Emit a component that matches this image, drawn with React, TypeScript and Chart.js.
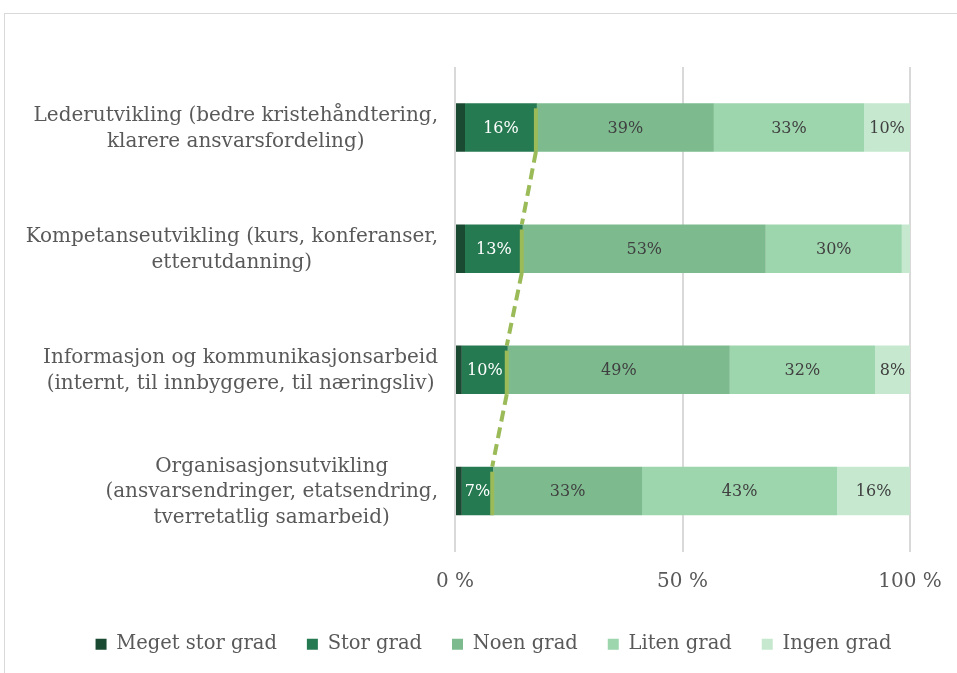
import React, { useEffect, useRef } from "react";
import { Chart, registerables } from "chart.js";

Chart.register(...registerables);

const FONT = '"DejaVu Serif", serif';

const categories: string[][] = [
  ["Lederutvikling (bedre kristehåndtering,", "klarere ansvarsfordeling)"],
  ["Kompetanseutvikling (kurs, konferanser,", "etterutdanning)"],
  ["Informasjon og kommunikasjonsarbeid", "(internt, til innbyggere, til næringsliv)"],
  ["Organisasjonsutvikling", "(ansvarsendringer, etatsendring,", "tverretatlig samarbeid)"],
];

const seriesNames = ["Meget stor grad", "Stor grad", "Noen grad", "Liten grad", "Ingen grad"];
const megetStor = [2.2, 2.2, 1.5, 1.5];
const stor = [15.8, 12.7, 10.1, 6.9];
const noen = [38.9, 53.4, 48.8, 32.7];
const liten = [33.0, 29.9, 31.9, 42.9];
const ingen = [10.1, 1.8, 7.7, 16.0];
const tickValues = [0, 50, 100];

const colors = ["#1b4a32", "#267a52", "#7dbb8f", "#9dd5ad", "#c5e8cf"];
const labelColors = ["#ffffff", "#ffffff", "#404040", "#404040", "#404040"];

const yLabelPlugin = {
  id: "yLabels",
  afterDraw(chart: any) {
    const ctx = chart.ctx;
    const yScale = chart.scales.y;
    ctx.save();
    ctx.font = `20px ${FONT}`;
    ctx.fillStyle = "#595959";
    ctx.textAlign = "center";
    ctx.textBaseline = "middle";
    const lh = 25.5;
    const right = 438;
    categories.forEach((lines, i) => {
      const cy = yScale.getPixelForValue(i);
      const widest = Math.max(...lines.map((l) => ctx.measureText(l).width));
      const cx = right - widest / 2;
      lines.forEach((l, j) => {
        const y = cy + (j - (lines.length - 1) / 2) * lh + 1;
        ctx.fillText(l, cx, y);
      });
    });
    ctx.restore();
  },
};

const seriesLinePlugin = {
  id: "seriesLine",
  afterDatasetsDraw(chart: any) {
    const ctx = chart.ctx;
    const els = chart.getDatasetMeta(1).data;
    ctx.save();
    ctx.strokeStyle = "#9bbb59";
    ctx.lineWidth = 4;
    els.forEach((el: any, i: number) => {
      const p = el.getProps(["x", "y", "height"], true);
      const x = p.x - 1;
      ctx.setLineDash([]);
      ctx.beginPath();
      ctx.moveTo(x, p.y - p.height / 2 + 5);
      ctx.lineTo(x, p.y + p.height / 2);
      ctx.stroke();
      if (i < els.length - 1) {
        const n = els[i + 1].getProps(["x", "y", "height"], true);
        ctx.setLineDash([11, 6]);
        ctx.beginPath();
        ctx.moveTo(x, p.y + p.height / 2);
        ctx.lineTo(n.x - 1, n.y - n.height / 2);
        ctx.stroke();
      }
    });
    ctx.restore();
  },
};

const dataLabelPlugin = {
  id: "dataLabels",
  afterDatasetsDraw(chart: any) {
    const ctx = chart.ctx;
    ctx.save();
    ctx.font = `16px ${FONT}`;
    ctx.textAlign = "center";
    ctx.textBaseline = "middle";
    chart.data.datasets.forEach((ds: any, di: number) => {
      const meta = chart.getDatasetMeta(di);
      meta.data.forEach((el: any, i: number) => {
        const v = ds.data[i];
        if (v < 5) return;
        const p = el.getProps(["x", "y", "base"], true);
        ctx.fillStyle = labelColors[di];
        ctx.fillText(Math.round(v) + "%", (p.x + p.base) / 2, p.y + 1);
      });
    });
    ctx.restore();
  },
};

export default function App() {
  const ref = useRef<HTMLCanvasElement>(null);
  useEffect(() => {
    const values = [megetStor, stor, noen, liten, ingen];
    const chart = new Chart(ref.current!, {
      type: "bar",
      data: {
        labels: categories.map((c) => c.join(" ")),
        datasets: seriesNames.map((name, i) => ({
          label: name,
          data: values[i],
          backgroundColor: colors[i],
          borderWidth: 0,
          categoryPercentage: 1,
          barPercentage: 0.4,
        })),
      },
      options: {
        indexAxis: "y",
        responsive: false,
        animation: false,
        layout: { padding: { left: 30, right: 0, top: 67, bottom: 9 } },
        scales: {
          x: {
            stacked: true,
            min: 0,
            max: 100,
            afterBuildTicks: (scale: any) => {
              scale.ticks = tickValues.map((v) => ({ value: v }));
            },
            afterFit: (scale: any) => {
              scale.height += 8;
            },
            grid: {
              color: "#d9d9d9",
              lineWidth: 2,
              drawTicks: true,
              tickLength: 16,
              tickColor: "rgba(0,0,0,0)",
            },
            border: { display: false },
            ticks: {
              padding: 2.5,
              color: "#595959",
              font: { family: FONT, size: 20 },
              callback: (v: any) => v + " %",
            },
          },
          y: {
            stacked: true,
            display: true,
            grid: { display: false },
            border: { display: false },
            ticks: { display: false },
            afterFit: (scale: any) => {
              scale.width = 425;
            },
          },
          y2: {
            type: "linear",
            axis: "y",
            position: "right",
            display: true,
            grid: { display: false },
            border: { display: false },
            ticks: { display: false },
            afterFit: (scale: any) => {
              scale.width = 47;
            },
          },
        },
        plugins: {
          legend: {
            position: "bottom",
            labels: {
              boxWidth: 11,
              boxHeight: 11,
              padding: 30,
              color: "#595959",
              font: { family: FONT, size: 19.5 },
            },
          },
          tooltip: { enabled: false },
        },
      },
      plugins: [seriesLinePlugin, dataLabelPlugin, yLabelPlugin],
    } as any);
    return () => chart.destroy();
  }, []);
  return (
    <div
      style={{
        position: "fixed",
        left: 0,
        top: 0,
        width: 957,
        height: 673,
        overflow: "hidden",
        background: "#ffffff",
      }}
    >
      <div
        style={{
          position: "absolute",
          left: 4,
          top: 13,
          width: 1000,
          height: 700,
          border: "1px solid #d9d9d9",
        }}
      />
      <canvas
        ref={ref}
        width={957}
        height={673}
        style={{ position: "absolute", left: 0, top: 0, display: "block" }}
      />
    </div>
  );
}
